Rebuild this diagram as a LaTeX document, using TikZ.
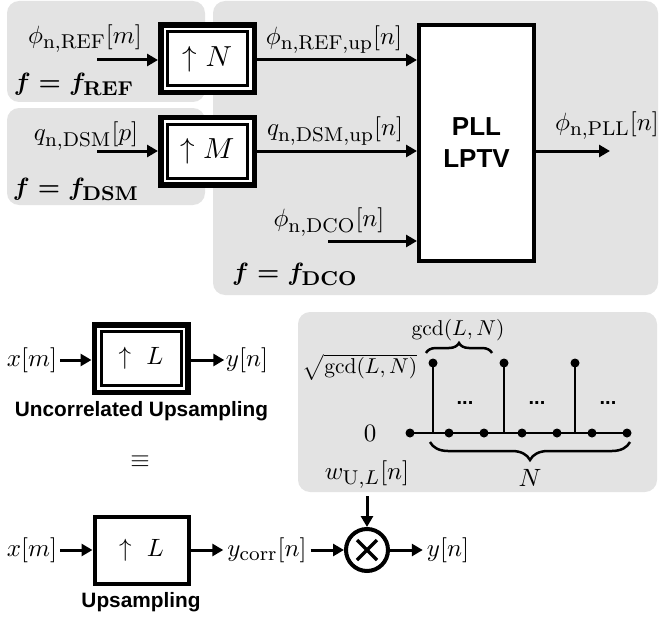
\RequirePackage{fix-cm}
\documentclass[tikz,border=0pt]{standalone}
\usepackage{fontspec}
\usepackage{amsmath}
\usepackage{graphicx}
\DeclareMathSizes{10}{10}{8}{6}
\newfontfamily\lsans{Liberation Sans}
\newcommand{\mth}[1]{\scalebox{2.5}{$#1$}}
\newcommand{\mths}[1]{\scalebox{2.15}{$#1$}}
\newcommand{\mthb}[1]{\scalebox{2.9}{$#1$}}
\usetikzlibrary{arrows.meta,decorations.pathreplacing,calc}
\definecolor{panelgray}{HTML}{E3E3E3}
\begin{document}
\begin{tikzpicture}[x=1pt,y=-1pt,
  every node/.style={inner sep=0pt},
  panel/.style={fill=panelgray, draw=none, rounded corners=12pt},
  wire/.style={line width=3pt, -{Triangle[length=11pt,width=12pt]}},
  ublock/.style={draw, fill=white, line width=5.5pt, outer sep=2.75pt, minimum width=93.5pt, minimum height=67.5pt},
  innerframe/.style={draw, line width=3pt},
  sblock/.style={draw, fill=white, line width=4pt, minimum width=94pt, minimum height=67pt, outer sep=2pt},
  pllbox/.style={draw, fill=white, line width=4pt, minimum width=115pt, minimum height=236pt, outer sep=2pt, align=center, font=\lsans\bfseries\fontsize{26}{32}\selectfont},
  sanslbl/.style={font=\lsans\bfseries\fontsize{20.8}{24}\selectfont},
  dotslbl/.style={font=\lsans\bfseries\fontsize{20}{24}\selectfont, anchor=base},
  flbl/.style={font=\mathversion{bold}},
  lbl/.style={inner sep=3pt},
  mult/.style={circle, draw, fill=white, line width=4pt, minimum size=42pt, outer sep=2pt},
  stemdot/.style={circle, fill=black, inner sep=0pt, minimum size=9pt},
  stemline/.style={line width=2.5pt},
  bracestyle/.style={line width=2.5pt, decorate}
]
\useasboundingbox (0,0) rectangle (659,618);

% panels
\fill[panel] (7,1) rectangle (205,102);
\fill[panel] (7,108) rectangle (205,205);
\fill[panel] (213,1) rectangle (658,295);
\fill[panel] (298,312) rectangle (657,492);

% top part
\node[ublock] (upN) at (207.5,59) {\mthb{\uparrow N}};
\draw[innerframe] ([shift={(9.5,9.5)}]upN.north west) rectangle ([shift={(-9.5,-9.5)}]upN.south east);
\node[ublock] (upM) at (207.5,151) {\mthb{\uparrow M}};
\draw[innerframe] ([shift={(9.5,9.5)}]upM.north west) rectangle ([shift={(-9.5,-9.5)}]upM.south east);
\node[pllbox] (pll) at (476.5,143) {PLL\\LPTV};

\coordinate (inN) at (97,60);
\coordinate (inM) at (97,151);
\coordinate (dcoin) at (328,241);
\coordinate (pllout) at (610,151);

\draw[wire] (inN) -- (inN -| upN.west);
\draw[wire] (inM) -- (inM -| upM.west);
\draw[wire] (inN -| upN.east) -- (inN -| pll.west);
\draw[wire] (inM -| upM.east) -- (inM -| pll.west);
\draw[wire] (dcoin) -- (dcoin -| pll.west);
\draw[wire] (pll.east |- pllout) -- (pllout);

\node (lref) at (85,39) {\mth{\phi_{\mathrm{n,REF}}[m]}};
\node[flbl] (fref) at (74,84) {\mth{f = f_{\mathbf{REF}}}};
\node (ldsm) at (86,136) {\mth{q_{\mathrm{n,DSM}}[p]}};
\node[flbl] (fdsm) at (76,189) {\mth{f = f_{\mathbf{DSM}}}};
\node (lrefup) at (334,40) {\mth{\phi_{\mathrm{n,REF,up}}[n]}};
\node (ldsmup) at (335,131) {\mth{q_{\mathrm{n,DSM,up}}[n]}};
\node (ldco) at (329,222) {\mth{\phi_{\mathrm{n,DCO}}[n]}};
\node[flbl] (fdco) at (295,274) {\mth{f = f_{\mathbf{DCO}}}};
\node (lpll) at (607,126) {\mth{\phi_{\mathrm{n,PLL}}[n]}};

% uncorrelated upsampling
\node[ublock] (upL1) at (141,358.5) {\mth{\uparrow\ L}};
\draw[innerframe] ([shift={(9.5,9.5)}]upL1.north west) rectangle ([shift={(-9.5,-9.5)}]upL1.south east);
\node[lbl] (xm1) at (32,360) {\mth{x[m]}};
\node[lbl, inner sep=1.5pt] (yn1) at (247,360) {\mth{y[n]}};
\draw[wire] (xm1) -- (xm1 -| upL1.west);
\draw[wire] (yn1 -| upL1.east) -- (yn1);
\node[sanslbl] (uncorr) at (141.5,411) {Uncorrelated Upsampling};
\node (equiv) at (140,462) {\mth{\equiv}};

% correlated upsampling
\node[sblock] (upL2) at (141.5,550) {\mth{\uparrow\ L}};
\node[lbl] (xm2) at (32,550) {\mth{x[m]}};
\node[lbl, inner sep=4pt] (ycorr) at (267,550) {\mth{y_{\mathrm{corr}}[n]}};
\node[mult] (mul) at (367,550) {};
\draw[line width=3.5pt] ([shift={(-10,-10)}]mul.center) -- ([shift={(10,10)}]mul.center);
\draw[line width=3.5pt] ([shift={(-10,10)}]mul.center) -- ([shift={(10,-10)}]mul.center);
\node[lbl, inner sep=4pt] (yn2) at (448,550) {\mth{y[n]}};
\node[inner sep=7pt] (wul) at (367,475) {\mth{w_{\mathrm{U},L}[n]}};
\draw[wire] (xm2) -- (upL2);
\draw[wire] (upL2) -- (ycorr);
\draw[wire] (ycorr) -- (mul);
\draw[wire] (mul) -- (yn2);
\draw[wire] (wul) -- (mul);
\node[sanslbl] (ups) at (141,602) {Upsampling};

% stem plot
\node[stemdot] (d1) at (410,433) {};
\node[stemdot] (d2) at (449,433) {};
\node[stemdot] (d3) at (484,433) {};
\node[stemdot] (d4) at (522,433) {};
\node[stemdot] (d5) at (557,433) {};
\node[stemdot] (d6) at (592,433) {};
\node[stemdot] (d7) at (627,433) {};
\draw[stemline] (d1.center) -- (d7.center);
\coordinate (b1) at (433,433);
\coordinate (b2) at (504,433);
\coordinate (b3) at (575,433);
\node[stemdot] (s1) at (433,363) {};
\node[stemdot] (s2) at (504,363) {};
\node[stemdot] (s3) at (575,363) {};
\draw[stemline] (b1) -- (s1.center);
\draw[stemline] (b2) -- (s2.center);
\draw[stemline] (b3) -- (s3.center);
\node (zero) at (370,433) {\mth{0}};
\node[dotslbl] (e1) at (465,404) {...};
\node[dotslbl] (e2) at (537,404) {...};
\node[dotslbl] (e3) at (608,404) {...};
\node (sq) at (360,367) {\mths{\sqrt{\mathrm{gcd}(L,N)}}};
\coordinate (tb1) at (426,353);
\coordinate (tb2) at (492,353);
\draw[bracestyle, decoration={brace, amplitude=10pt}] (tb1) -- (tb2);
\node (gcdl) at (458,330) {\mths{\mathrm{gcd}(L,N)}};
\coordinate (bb1) at (430,442);
\coordinate (bb2) at (630,442);
\draw[bracestyle, decoration={brace, amplitude=18pt}] (bb2) -- (bb1);
\node (nl) at (530,478) {\mth{N}};
\end{tikzpicture}
\end{document}
